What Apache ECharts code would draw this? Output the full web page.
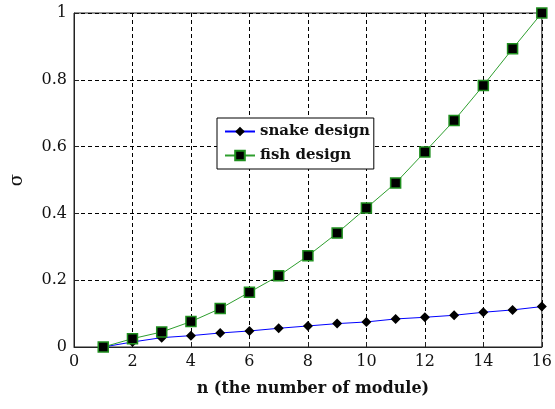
<!DOCTYPE html>
<html>
<head>
<meta charset="utf-8">
<script src="https://cdn.jsdelivr.net/npm/echarts@6/dist/echarts.min.js"></script>
<style>
  html, body { margin: 0; padding: 0; background: #fff; }
  #chart { width: 555px; height: 409px; }
</style>
</head>
<body>
<div id="chart"></div>
<script>
// Number of modules n
const modules = [1, 2, 3, 4, 5, 6, 7, 8, 9, 10, 11, 12, 13, 14, 15, 16];
// Sigma for the snake design
const snakeSigma = [0, 0.015, 0.028, 0.034, 0.042, 0.048, 0.056, 0.063, 0.070, 0.075, 0.084, 0.089, 0.095, 0.104, 0.111, 0.121];
// Sigma for the fish design
const fishSigma = [0, 0.025, 0.045, 0.076, 0.115, 0.164, 0.213, 0.273, 0.341, 0.416, 0.491, 0.584, 0.678, 0.783, 0.893, 1.0];

const seriesNames = ['snake design', 'fish design'];
const xTitle = 'n (the number of module)';
const yTitle = 'σ';

const FONT = 'DejaVu Serif';

const pairs = (xs, ys) => xs.map((x, i) => [x, ys[i]]);

const chart = echarts.init(document.getElementById('chart'), null, { renderer: 'canvas' });

const dashed = { color: '#000', width: 1, type: [4, 3] };

chart.setOption({
  animation: false,
  backgroundColor: '#fff',
  grid: {
    left: 69, top: 13, right: 7, bottom: 62,
    show: true, borderColor: '#222', borderWidth: 1, backgroundColor: 'transparent'
  },
  legend: {
    orient: 'vertical',
    left: 217, top: 118,
    padding: [6, 4, 6, 7],
    itemGap: 9,
    itemWidth: 30, itemHeight: 12,
    backgroundColor: '#fff',
    borderColor: '#000', borderWidth: 1, borderRadius: 0,
    textStyle: { fontFamily: FONT, fontSize: 15, fontWeight: 'bold', color: '#111' },
    data: seriesNames
  },
  xAxis: {
    type: 'value', min: 0, max: 16, interval: 2,
    name: xTitle, nameLocation: 'middle', nameGap: 34,
    nameTextStyle: { fontFamily: FONT, fontSize: 16, fontWeight: 'bold', color: '#111', padding: [0, 0, 0, 10] },
    axisLine: { show: true, lineStyle: { color: '#222', width: 1 } },
    axisTick: { show: true, inside: true, length: 5, lineStyle: { color: '#222' } },
    axisLabel: { fontFamily: FONT, fontSize: 16, color: '#111', margin: 7 },
    splitLine: { show: true, lineStyle: dashed }
  },
  yAxis: {
    type: 'value', min: 0, max: 1, interval: 0.2,
    name: yTitle, nameLocation: 'middle', nameGap: 48, nameRotate: 90,
    nameTextStyle: { fontFamily: FONT, fontSize: 18, color: '#111' },
    axisLine: { show: true, lineStyle: { color: '#222', width: 1 } },
    axisTick: { show: true, inside: true, length: 5, lineStyle: { color: '#222' } },
    axisLabel: { fontFamily: FONT, fontSize: 16, color: '#111', margin: 7 },
    splitLine: { show: true, lineStyle: dashed }
  },
  series: [
    {
      name: seriesNames[0], type: 'line',
      data: pairs(modules, snakeSigma),
      symbol: 'diamond', symbolSize: 10,
      lineStyle: { color: '#0000ff', width: 1 },
      itemStyle: { color: '#000', borderColor: '#000', borderWidth: 0 },
      z: 3
    },
    {
      name: seriesNames[1], type: 'line',
      data: pairs(modules, fishSigma),
      symbol: 'rect', symbolSize: 10,
      lineStyle: { color: '#2e9e2e', width: 1 },
      itemStyle: { color: '#000', borderColor: '#1f8f1f', borderWidth: 1.5 },
      z: 4
    }
  ]
});
</script>
</body>
</html>
